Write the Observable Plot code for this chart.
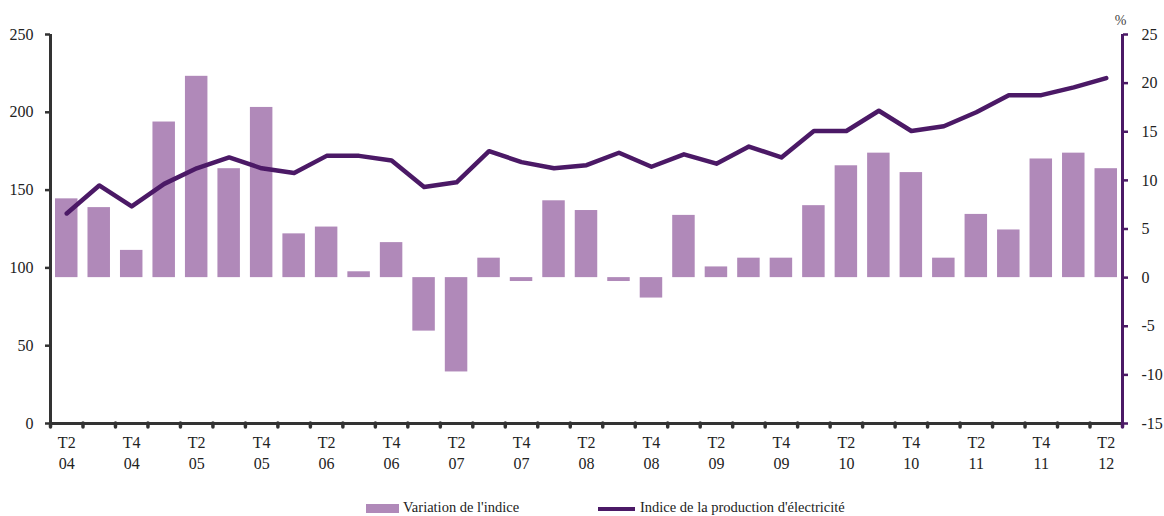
<!DOCTYPE html>
<html>
<head>
<meta charset="utf-8">
<script src="https://cdn.jsdelivr.net/npm/d3@7"></script>
<script src="https://cdn.jsdelivr.net/npm/@observablehq/plot@0.6"></script>
<style>
  html, body { margin: 0; padding: 0; background: #fff; }
  #wrap { position: relative; width: 1164px; height: 516px; font-family: "Liberation Serif", "DejaVu Serif", serif; }
  #legend { position: relative; width: 1164px; height: 26px; font-size: 14.5px; color: #222; }
  .sw { position: absolute; }
  .lt { position: absolute; top: 9px; line-height: 16px; }
</style>
</head>
<body>
<div id="wrap">
  <div id="chart"></div>
  <div id="legend">
    <div class="sw" style="left:366px; top:14px; width:33px; height:9px; background:#b089b9;"></div>
    <div class="lt" style="left:403px;">Variation de l'indice</div>
    <div class="sw" style="left:598px; top:17px; width:37px; height:4px; background:#4b1966;"></div>
    <div class="lt" style="left:640px;">Indice de la production d'électricité</div>
  </div>
</div>
<script>
const quarters = [
  "T2 04","T3 04","T4 04","T1 05","T2 05","T3 05","T4 05","T1 06","T2 06","T3 06","T4 06",
  "T1 07","T2 07","T3 07","T4 07","T1 08","T2 08","T3 08","T4 08","T1 09","T2 09","T3 09",
  "T4 09","T1 10","T2 10","T3 10","T4 10","T1 11","T2 11","T3 11","T4 11","T1 12","T2 12"
];
// Variation de l'indice (%), right axis
const variation = [
  8.1, 7.2, 2.8, 16.0, 20.7, 11.2, 17.5, 4.5, 5.2, 0.6, 3.6,
  -5.5, -9.7, 2.0, -0.4, 7.9, 6.9, -0.4, -2.1, 6.4, 1.1, 2.0,
  2.0, 7.4, 11.5, 12.8, 10.8, 2.0, 6.5, 4.9, 12.2, 12.8, 11.2
];
// Indice de la production d'électricité, left axis
const indice = [
  135, 153, 139.5, 154, 164, 171, 164, 161, 172, 172, 169,
  152, 155, 175, 168, 164, 166, 174, 165, 173, 167, 178,
  171, 188, 188, 201, 188, 191, 200, 211, 211, 216, 222
];
const leftTicks = [0, 50, 100, 150, 200, 250];
const rightTicks = [-15, -10, -5, 0, 5, 10, 15, 20, 25];

const data = quarters.map((q, i) => ({q, v: variation[i], idx: indice[i]}));
const toLeft = v => (v + 15) * 6.25;   // right scale [-15,25] -> left scale [0,250]

const ml = 50, mr = 42, W = 1164, H = 490;
const bw = (W - ml - mr) / quarters.length;
const barColor = "#b089b9";
const lineColor = "#4b1966";
const axisDark = "#333333";

const chart = Plot.plot({
  width: W,
  height: H,
  marginLeft: ml,
  marginRight: mr,
  marginTop: 34,
  marginBottom: 67,
  style: {fontFamily: "'Liberation Serif', 'DejaVu Serif', serif", fontSize: "16px", color: "#222", background: "#fff"},
  x: {type: "band", domain: quarters, padding: 0, round: false},
  y: {domain: [0, 250]},
  marks: [
    Plot.barY(data, {x: "q", y1: toLeft(0), y2: d => toLeft(d.v), fill: barColor, insetLeft: 5, insetRight: 5}),
    Plot.line(data, {x: "q", y: "idx", stroke: lineColor, strokeWidth: 4.5}),
    // bottom axis line
    Plot.ruleY([0], {stroke: axisDark, strokeWidth: 3}),
    // left axis line
    Plot.ruleX([quarters[0]], {dx: -bw / 2, y1: 0, y2: 250, stroke: axisDark, strokeWidth: 3}),
    // right axis line
    Plot.ruleX([quarters[quarters.length - 1]], {dx: bw / 2, y1: 0, y2: 250, stroke: lineColor, strokeWidth: 3}),
    // x ticks at band boundaries
    Plot.ruleX(quarters, {dx: -bw / 2, y1: 0, y2: -2.6, stroke: axisDark, strokeWidth: 3.5, strokeLinecap: "round"}),
    Plot.ruleX([quarters[quarters.length - 1]], {dx: bw / 2, y1: 0, y2: -2.6, stroke: lineColor, strokeWidth: 3.5, strokeLinecap: "round"}),
    Plot.axisY({anchor: "left", ticks: leftTicks, tickSize: 5, tickPadding: 12, stroke: axisDark, strokeWidth: 2.5, fill: "#222", fontSize: 16, label: null}),
    Plot.axisY({anchor: "right", ticks: rightTicks.map(toLeft), tickFormat: d => String(Math.round(d / 6.25 - 15)),
      tickSize: 5, tickPadding: 14, stroke: lineColor, strokeWidth: 2.5, fill: "#222", fontSize: 16, label: null}),
    Plot.axisX({ticks: quarters.filter((d, i) => i % 2 === 0), tickSize: 0, tickPadding: 10, fontSize: 16,
      tickFormat: d => d.replace(" ", "\n"), lineHeight: 1.3, fill: "#222", label: null}),
    Plot.text(["%"], {frameAnchor: "top-right", dx: 4, dy: -19, text: d => d, fontSize: 14, fill: "#444"})
  ]
});
document.getElementById("chart").appendChild(chart);
</script>
</body>
</html>
